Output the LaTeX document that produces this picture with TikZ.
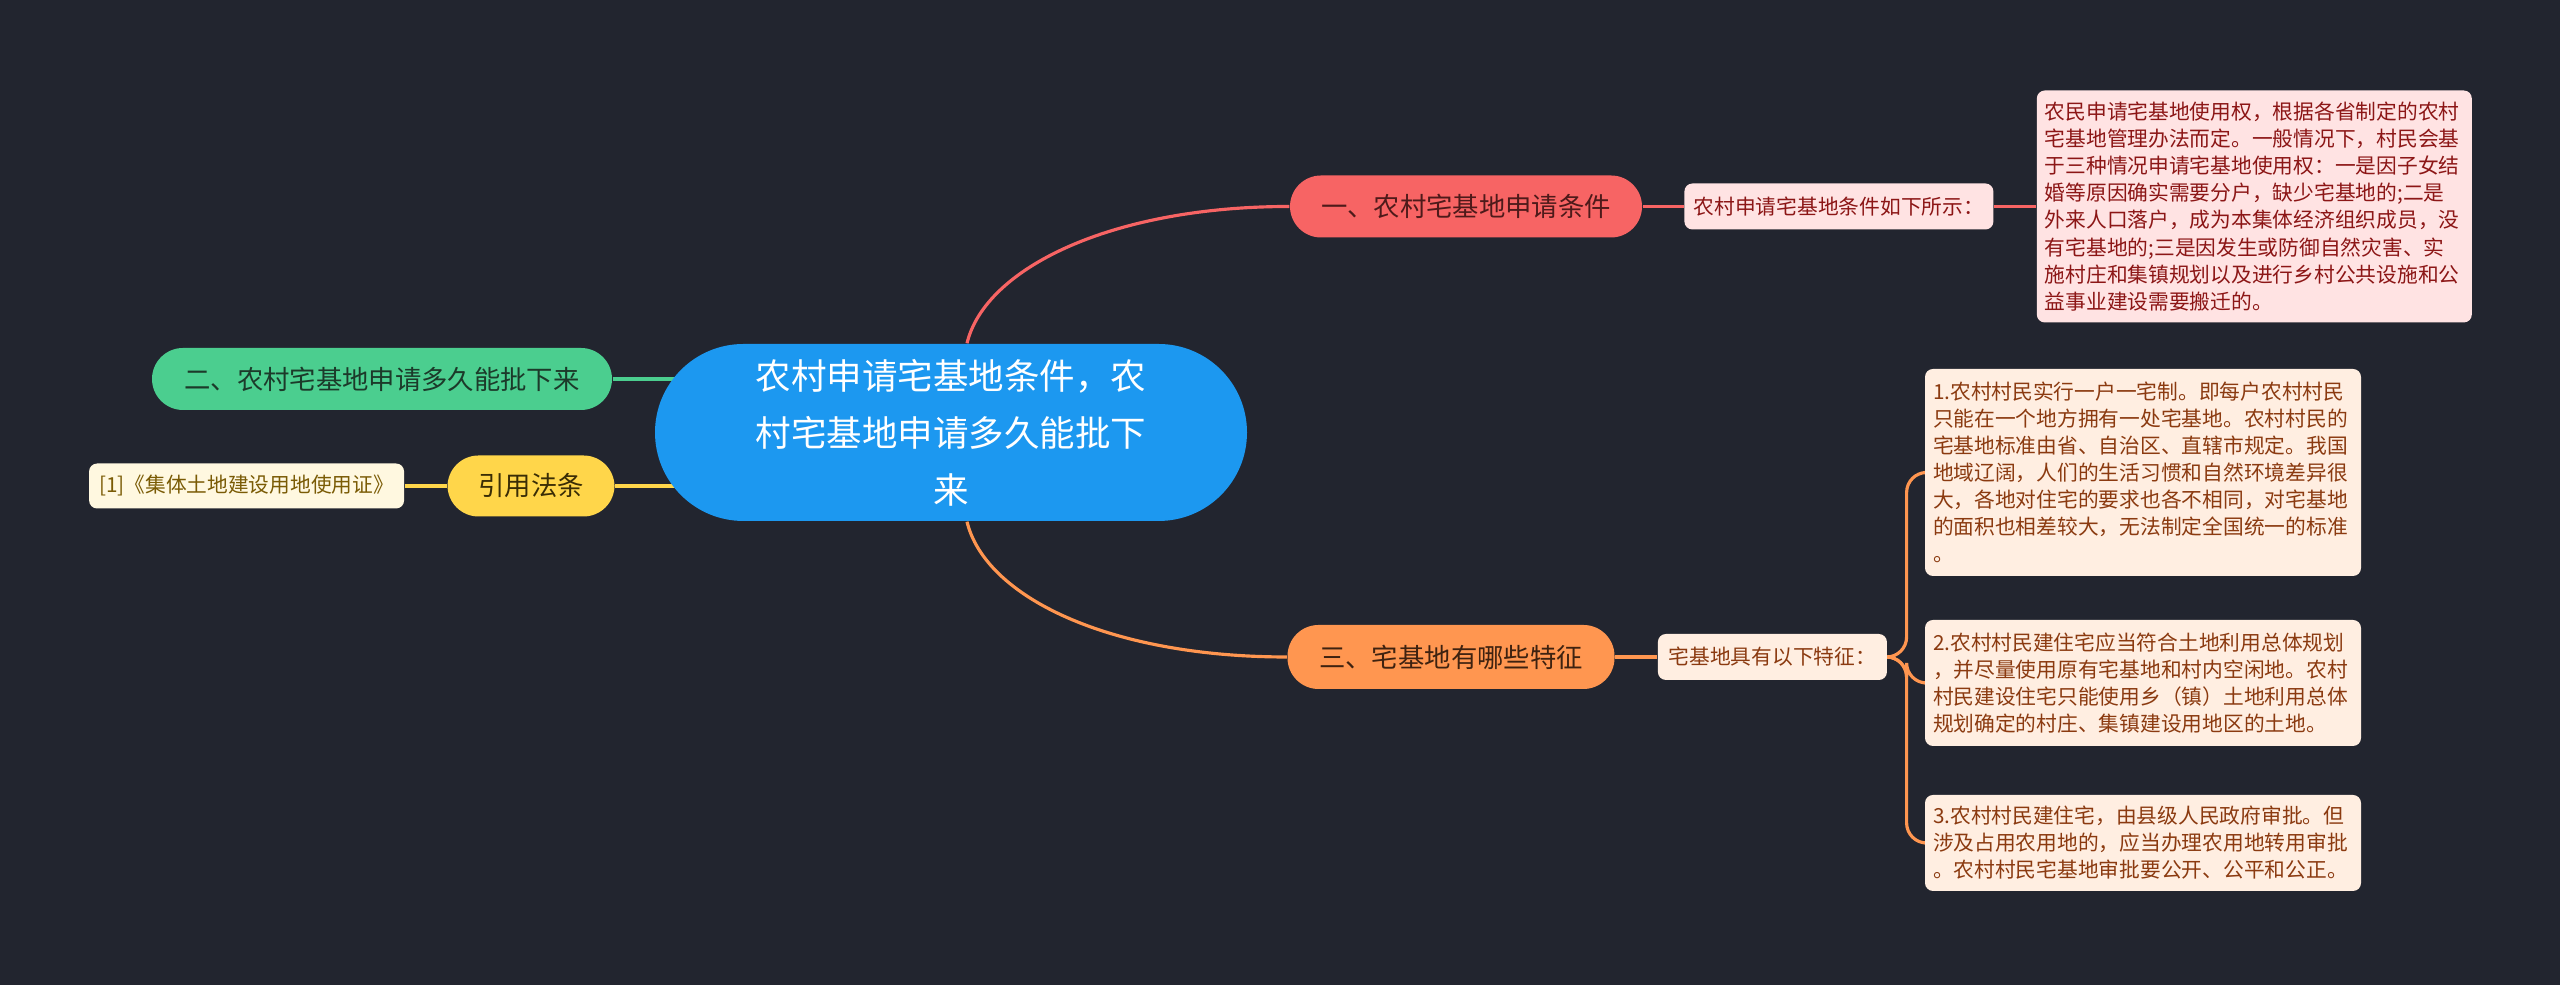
\documentclass[tikz,border=0pt]{standalone}
\usepackage{fontspec}
\setmainfont{Noto Sans CJK SC}
\usepackage{xcolor}
\usepackage{tikz}
\usetikzlibrary{positioning}
\definecolor{bgdark}{HTML}{22252F}
\definecolor{rootblue}{HTML}{1C98F0}
\definecolor{redbr}{HTML}{F76464}
\definecolor{greenbr}{HTML}{4BCE8F}
\definecolor{yellowbr}{HTML}{FFD64A}
\definecolor{orangebr}{HTML}{FF9650}
\definecolor{pinkleaf}{HTML}{FFE3E3}
\definecolor{peachleaf}{HTML}{FFEEE1}
\definecolor{creamleaf}{HTML}{FFF8E0}
\definecolor{redtext}{HTML}{8C1616}
\definecolor{browntext}{HTML}{8B3A10}
\definecolor{olivetext}{HTML}{7A5B05}
\definecolor{redbrtext}{HTML}{4E1A1A}
\definecolor{greenbrtext}{HTML}{1C3A2A}
\definecolor{yellowbrtext}{HTML}{3A2D05}
\definecolor{orangebrtext}{HTML}{3E2210}
\pgfdeclarelayer{canvas}
\pgfdeclarelayer{links}
\pgfsetlayers{canvas,links,main}

\begin{document}
\begin{tikzpicture}[
  node distance=0.42cm,
  root/.style={fill=rootblue, text=white, rounded corners=0.885cm, minimum width=5.92cm, minimum height=1.77cm, align=center, font=\fontsize{10.1}{16.2}\selectfont},
  branch/.style={rounded corners=0.31cm, minimum height=0.62cm, inner xsep=0pt, font=\fontsize{7.5}{9}\selectfont},
  leaf/.style={rounded corners=0.08cm, align=left, inner xsep=0.08cm, inner ysep=0pt, font=\fontsize{5.9}{7.7}\selectfont},
  link/.style={line width=0.9pt}
]
\useasboundingbox (0,0) rectangle (25.6,9.85);
\begin{pgfonlayer}{canvas}
\fill[bgdark] (0,0) rectangle (25.6,9.85);
\end{pgfonlayer}

\node[root] (root) at (9.51,5.525) {农村申请宅基地条件，农\\村宅基地申请多久能批下\\来};

% 一
\node[branch, fill=redbr, text=redbrtext, minimum width=3.52cm] (b1) at (14.66,7.785) {一、农村宅基地申请条件};
\node[leaf, fill=pinkleaf, text=redtext, minimum width=3.09cm, minimum height=0.46cm, right=0.41cm of b1] (l1) {农村申请宅基地条件如下所示：};
\node[leaf, fill=pinkleaf, text=redtext, text width=4.19cm, minimum height=2.32cm, right=of l1] (t1) {农民申请宅基地使用权，根据各省制定的农村\\宅基地管理办法而定。一般情况下，村民会基\\于三种情况申请宅基地使用权：一是因子女结\\婚等原因确实需要分户，缺少宅基地的;二是\\外来人口落户，成为本集体经济组织成员，没\\有宅基地的;三是因发生或防御自然灾害、实\\施村庄和集镇规划以及进行乡村公共设施和公\\益事业建设需要搬迁的。};

% 二
\node[branch, fill=greenbr, text=greenbrtext, minimum width=4.60cm] (b2) at (3.82,6.06) {二、农村宅基地申请多久能批下来};

% 引用法条
\node[branch, fill=yellowbr, text=yellowbrtext, minimum width=1.67cm, minimum height=0.61cm] (b4) at (5.31,4.99) {引用法条};
\node[leaf, fill=creamleaf, text=olivetext, minimum width=3.15cm, minimum height=0.45cm, left=of b4] (c4) {[1]《集体土地建设用地使用证》};

% 三
\node[branch, fill=orangebr, text=orangebrtext, minimum width=3.27cm, minimum height=0.64cm] (b3) at (14.51,3.28) {三、宅基地有哪些特征};
\node[leaf, fill=peachleaf, text=browntext, minimum width=2.29cm, minimum height=0.46cm, right=of b3] (l3) {宅基地具有以下特征：};
\node[leaf, fill=peachleaf, text=browntext, text width=4.2cm, minimum height=2.07cm] (f1) at (21.43,5.125) {1.农村村民实行一户一宅制。即每户农村村民\\只能在一个地方拥有一处宅基地。农村村民的\\宅基地标准由省、自治区、直辖市规定。我国\\地域辽阔，人们的生活习惯和自然环境差异很\\大，各地对住宅的要求也各不相同，对宅基地\\的面积也相差较大，无法制定全国统一的标准\\。};
\node[leaf, fill=peachleaf, text=browntext, text width=4.2cm, minimum height=1.26cm] (f2) at (21.43,3.02) {2.农村村民建住宅应当符合土地利用总体规划\\，并尽量使用原有宅基地和村内空闲地。农村\\村民建设住宅只能使用乡（镇）土地利用总体\\规划确定的村庄、集镇建设用地区的土地。};
\node[leaf, fill=peachleaf, text=browntext, text width=4.2cm, minimum height=0.96cm] (f3) at (21.43,1.42) {3.农村村民建住宅，由县级人民政府审批。但\\涉及占用农用地的，应当办理农用地转用审批\\。农村村民宅基地审批要公开、公平和公正。};

\begin{pgfonlayer}{links}
\draw[link, redbr] ([xshift=0.16cm]root.north) .. controls +(0.18,0.75) and +(-1.78,0) .. (b1.west);
\draw[link, redbr] (b1) -- (l1) -- (t1);
\draw[link, greenbr] (b2.east) -- (b2.east -| root.center);
\draw[link, yellowbr] (c4) -- (b4) -- (b4.east -| root.center);
\draw[link, orangebr] ([xshift=0.16cm]root.south) .. controls +(0.18,-0.75) and +(-1.78,0) .. (b3.west);
\draw[link, orangebr] (b3) -- (l3);
\coordinate[right=0.19cm of l3] (fork);
\foreach \f in {f1,f2,f3}
  \draw[link, orangebr, rounded corners=0.2cm] (l3.east) -- (fork) |- (\f.west);
\end{pgfonlayer}
\end{tikzpicture}
\end{document}
